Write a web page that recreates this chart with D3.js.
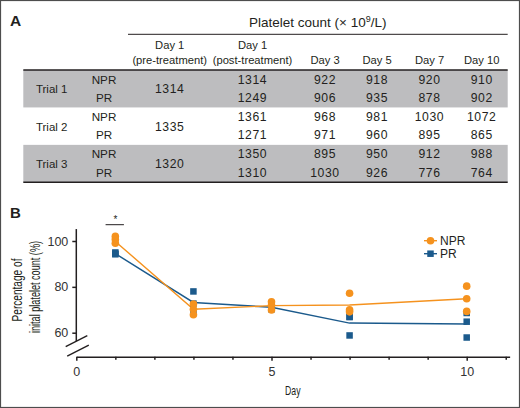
<!DOCTYPE html>
<html><head><meta charset="utf-8">
<script src="https://cdn.jsdelivr.net/npm/d3@7"></script>
<style>
body{margin:0;background:#fff;}
svg{display:block;font-family:"Liberation Sans",Arial,Helvetica,sans-serif;}
</style></head>
<body>
<script>
// ---- Table data (panel A) ----
const trials = ["Trial 1", "Trial 2", "Trial 3"];
const groups = ["NPR", "PR"];
const columnKeys = ["pre", "post", "d3", "d5", "d7", "d10"];
const columnLine1 = ["Day 1", "Day 1", "", "", "", ""];
const columnLine2 = ["(pre-treatment)", "(post-treatment)", "Day 3", "Day 5", "Day 7", "Day 10"];
const preCounts = [1314, 1335, 1320];
const nprCounts = [[1314, 922, 918, 920, 910], [1361, 968, 981, 1030, 1072], [1350, 895, 950, 912, 988]];
const prCounts = [[1249, 906, 935, 878, 902], [1271, 971, 960, 895, 865], [1310, 1030, 926, 776, 764]];

// ---- Chart data (panel B) ----
const days = [1, 3, 5, 7, 10];
const nprPoints = [[102.0, 100.6, 99.0], [70.2, 72.5, 67.8], [69.9, 73.5, 72.0], [70.0, 77.2, 69.1], [69.3, 80.3, 74.8]];
const prPoints = [[94.5, 95.0, 94.2], [68.9, 72.7, 78.0], [71.2, 71.9, 70.2], [66.8, 67.0, 58.8], [68.6, 64.8, 57.9]];
const nprMean = [99.8, 70.2, 71.8, 72.1, 74.8];
const prMean = [94.5, 73.2, 71.1, 64.2, 63.8];
const yTicks = [60, 80, 100];
const xTicks = [0, 1, 2, 3, 4, 5, 6, 7, 8, 9, 10, 11];
const xTickLabels = [0, 5, 10];

const W = 520, H = 408;
const ORANGE = "#f5921e", BLUE = "#1b5a8c", INK = "#231f20";

const svg = d3.select("body").append("svg").attr("width", W).attr("height", H);
svg.append("rect").attr("x", 0.5).attr("y", 0.5).attr("width", W - 1).attr("height", H - 1)
  .attr("fill", "#fff").attr("stroke", "#4d4d4d").attr("stroke-width", 1.2);

// ================= PANEL A =================
const A = svg.append("g");
A.append("text").attr("x", 10).attr("y", 25.5).attr("font-size", 15.5).attr("font-weight", "bold")
  .attr("fill", INK).text("A");

const colX = d3.scaleOrdinal().domain(columnKeys).range([169.7, 252.5, 325, 377, 429.5, 481.7]);
const rowY = d3.scaleBand().domain(trials).range([70, 182.3]);
const subY = d3.scalePoint().domain(groups).range([13.5, 31.8]);

// header
const title = A.append("text").attr("x", 317.7).attr("y", 26.8).attr("text-anchor", "middle")
  .attr("font-size", 13.5).attr("fill", INK);
title.append("tspan").text("Platelet count (× 10");
title.append("tspan").attr("dy", -5).attr("font-size", 9).text("9");
title.append("tspan").attr("dy", 5).text("/L)");
A.append("line").attr("x1", 128).attr("x2", 507.7).attr("y1", 34.3).attr("y2", 34.3)
  .attr("stroke", INK).attr("stroke-width", 1);

columnKeys.forEach((k, i) => {
  if (columnLine1[i]) A.append("text").attr("x", colX(k)).attr("y", 48.5).attr("text-anchor", "middle")
    .attr("font-size", 11.2).attr("fill", INK).text(columnLine1[i]);
  A.append("text").attr("x", colX(k)).attr("y", 63.5).attr("text-anchor", "middle")
    .attr("font-size", 11.2).attr("fill", INK).text(columnLine2[i]);
});

// row bands
trials.forEach((t, ti) => {
  if (ti % 2 === 0) A.append("rect").attr("x", 23.3).attr("y", rowY(t)).attr("width", 507.7 - 23.3)
    .attr("height", rowY.bandwidth()).attr("fill", "#bdbdbf");
});
A.append("line").attr("x1", 23.3).attr("x2", 507.7).attr("y1", 70).attr("y2", 70)
  .attr("stroke", INK).attr("stroke-width", 1.4);
A.append("line").attr("x1", 23.3).attr("x2", 507.7).attr("y1", 182.3).attr("y2", 182.3)
  .attr("stroke", INK).attr("stroke-width", 1.4);

trials.forEach((t, ti) => {
  const top = rowY(t);
  A.append("text").attr("x", 51.7).attr("y", top + 23.3).attr("text-anchor", "middle")
    .attr("font-size", 11.5).attr("fill", INK).text(t);
  A.append("text").attr("x", colX("pre")).attr("y", top + 23.3).attr("text-anchor", "middle")
    .attr("font-size", 12.2).attr("letter-spacing", 0.6).attr("fill", INK).text(preCounts[ti]);
  groups.forEach((g) => {
    const vals = g === "NPR" ? nprCounts[ti] : prCounts[ti];
    const yy = top + subY(g);
    A.append("text").attr("x", 104).attr("y", yy).attr("text-anchor", "middle")
      .attr("font-size", 11.7).attr("fill", INK).text(g);
    vals.forEach((v, vi) => {
      A.append("text").attr("x", colX(columnKeys[vi + 1])).attr("y", yy).attr("text-anchor", "middle")
        .attr("font-size", 12.2).attr("letter-spacing", 0.6).attr("fill", INK).text(v);
    });
  });
});

// ================= PANEL B =================
const B = svg.append("g");
B.append("text").attr("x", 10).attr("y", 217.5).attr("font-size", 15).attr("font-weight", "bold")
  .attr("fill", INK).text("B");

const x = d3.scaleLinear().domain([0, 10]).range([76.3, 466.7]);
const y = d3.scaleLinear().domain([60, 100]).range([332.7, 241]);
const xAxisY = 356.7;

// y axis
const yAx = B.append("g").attr("transform", `translate(${x(0)},0)`)
  .call(d3.axisLeft(y).tickValues(yTicks).tickSize(4).tickSizeOuter(0).tickPadding(4));
yAx.select(".domain").attr("d", `M0,${y(105.2)}V${y(56.3)}`);
yAx.selectAll("path,line").attr("stroke", INK).attr("stroke-width", 1.5);
yAx.selectAll("text").attr("font-size", 12.5).attr("fill", "#333").attr("font-family", "Liberation Sans, Arial, sans-serif");

// break marks
[[0, 0], [1.5, 9.5]].forEach(([dx, dy]) => {
  B.append("line").attr("x1", 65.7 + dx).attr("y1", 346.7 + dy).attr("x2", 87.3 + dx).attr("y2", 335.7 + dy)
    .attr("stroke", INK).attr("stroke-width", 1.4);
});

// x axis
const xAxScale = x.copy().domain([0, 11.1]).range([x(0), x(11.1)]);
const xAx = B.append("g").attr("transform", `translate(0,${xAxisY})`)
  .call(d3.axisBottom(xAxScale).tickValues(xTicks).tickSize(3).tickSizeOuter(0).tickPadding(7)
    .tickFormat(d => xTickLabels.includes(d) ? d : ""));
xAx.selectAll("path,line").attr("stroke", INK).attr("stroke-width", 1.5);
xAx.selectAll(".tick line").attr("y2", d => xTickLabels.includes(d) ? 4 : 3);
xAx.selectAll("text").attr("font-size", 12.5).attr("fill", "#333").attr("font-family", "Liberation Sans, Arial, sans-serif");

// axis titles (condensed)
B.append("text").attr("transform", `translate(21.5,290) rotate(-90)`).attr("text-anchor", "middle")
  .attr("font-size", 14).attr("fill", INK).attr("textLength", 63).attr("lengthAdjust", "spacingAndGlyphs")
  .text("Percentage of");
B.append("text").attr("transform", `translate(39.5,287) rotate(-90)`).attr("text-anchor", "middle")
  .attr("font-size", 14).attr("fill", INK).attr("textLength", 92).attr("lengthAdjust", "spacingAndGlyphs")
  .text("inital platelet count (%)");
B.append("text").attr("x", 285).attr("y", 394.5).attr("font-size", 13.5).attr("fill", INK)
  .attr("textLength", 15.5).attr("lengthAdjust", "spacingAndGlyphs").text("Day");

// significance
B.append("line").attr("x1", x(0.75)).attr("x2", x(1.22)).attr("y1", 224.7).attr("y2", 224.7)
  .attr("stroke", INK).attr("stroke-width", 1);
B.append("text").attr("x", x(1)).attr("y", 222.5).attr("text-anchor", "middle").attr("font-size", 10)
  .attr("fill", INK).text("*");

// lines
const line = d3.line().x((d, i) => x(days[i])).y(d => y(d));
B.append("path").datum(prMean).attr("d", line).attr("fill", "none").attr("stroke", BLUE).attr("stroke-width", 1.4);
B.append("path").datum(nprMean).attr("d", line).attr("fill", "none").attr("stroke", ORANGE).attr("stroke-width", 1.4);

// points
const sq = 6.5;
days.forEach((dday, i) => {
  prPoints[i].forEach(v => {
    B.append("rect").attr("x", x(dday) - sq / 2).attr("y", y(v) - sq / 2).attr("width", sq).attr("height", sq)
      .attr("fill", BLUE);
  });
});
days.forEach((dday, i) => {
  nprPoints[i].forEach(v => {
    B.append("circle").attr("cx", x(dday)).attr("cy", y(v)).attr("r", 3.8).attr("fill", ORANGE);
  });
});

// legend
const legend = [["NPR", ORANGE, "circle", 240.7], ["PR", BLUE, "rect", 253.7]];
legend.forEach(([name, col, shape, ly]) => {
  B.append("line").attr("x1", 424).attr("x2", 437).attr("y1", ly).attr("y2", ly).attr("stroke", col).attr("stroke-width", 1.4);
  if (shape === "circle") B.append("circle").attr("cx", 430.5).attr("cy", ly).attr("r", 3.8).attr("fill", col);
  else B.append("rect").attr("x", 430.5 - sq / 2).attr("y", ly - sq / 2).attr("width", sq).attr("height", sq).attr("fill", col);
  B.append("text").attr("x", 440).attr("y", ly + 4.3).attr("font-size", 12).attr("fill", INK).text(name);
});
</script>
</body></html>
